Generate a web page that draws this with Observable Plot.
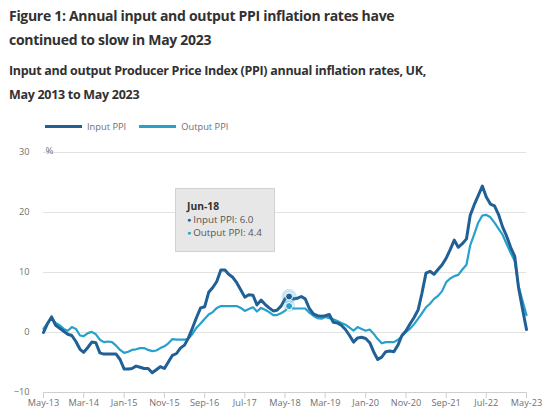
<!DOCTYPE html>
<html>
<head>
<meta charset="utf-8">
<script src="https://cdn.jsdelivr.net/npm/d3@7"></script>
<script src="https://cdn.jsdelivr.net/npm/@observablehq/plot@0.6"></script>
<style>
  html, body { margin: 0; padding: 0; background: #fff; }
  #wrap { position: relative; width: 550px; height: 414px; font-family: "Open Sans", sans-serif; overflow: hidden; }
  .title { position: absolute; left: 9px; top: 4px; font-size: 14px; font-weight: 700; letter-spacing: -0.3px; line-height: 24px; color: #323132; white-space: nowrap; }
  .subtitle { position: absolute; left: 9px; top: 58.5px; font-size: 12.5px; font-weight: 700; letter-spacing: -0.3px; line-height: 24.5px; color: #323132; white-space: nowrap; }
  .legend { position: absolute; left: 45px; top: 120px; font-size: 9.3px; color: #707071; display: flex; align-items: center; }
  .legend .item { display: flex; align-items: center; margin-right: 13px; }
  .legend .sw { display: inline-block; width: 37px; height: 3px; margin-right: 5px; }
  #chart { position: absolute; left: 0; top: 138px; }
  .tip { position: absolute; left: 175px; top: 188px; width: 100px; height: 64px; background: #e7e7e7; border: 1px solid #d2d2d2; box-sizing: border-box; font-size: 9.8px; color: #555; padding: 10.5px 0 0 11px; line-height: 13.3px; }
  .tip .h { font-weight: 700; color: #333; font-size: 10.3px; }
  .tip .b { font-size: 7px; vertical-align: 1px; margin-right: 2px; }
</style>
</head>
<body>
<div id="wrap">
  <div class="title">Figure 1: Annual input and output PPI inflation rates have<br>continued to slow in May 2023</div>
  <div class="subtitle">Input and output Producer Price Index (PPI) annual inflation rates, UK,<br>May 2013 to May 2023</div>
  <div class="legend" id="legend"></div>
  <div id="chart"></div>
  <div class="tip" id="tip"></div>
</div>
<script>
// Monthly series, May 2013 to May 2023 (121 months)
const startMonth = new Date(Date.UTC(2013, 4, 1));
const endMonth = new Date(Date.UTC(2023, 4, 1));

const inputPPI = [
  0.0, 1.5, 2.6, 1.2, 0.7, 0.2, -0.3, -0.5, -1.5, -2.8, -3.3, -2.5,
  -1.6, -1.7, -3.4, -3.6, -3.6, -3.6, -3.6, -4.5, -6.1, -6.1, -6.0, -5.6,
  -5.8, -6.0, -6.0, -6.7, -6.2, -5.7, -6.0, -4.9, -3.8, -3.5, -2.6, -2.1,
  -0.9, 0.8, 2.5, 4.1, 4.3, 6.7, 7.5, 8.5, 10.4, 10.4, 9.7, 9.2,
  8.3, 7.1, 5.9, 6.3, 6.2, 4.6, 5.4, 4.7, 4.1, 3.6, 3.7, 4.4,
  5.6, 6.0, 5.6, 5.7, 6.0, 5.6, 4.0, 3.1, 2.8, 2.7, 2.8, 3.0,
  1.7, 1.6, 1.2, 0.5, -0.5, -1.6, -0.9, -0.8, -1.0, -1.7, -3.2, -4.5,
  -4.1, -3.2, -3.1, -3.2, -2.1, -0.5, 0.3, 1.4, 2.5, 3.8, 6.5, 9.9,
  10.2, 9.7, 10.5, 11.3, 12.4, 13.8, 15.4, 14.2, 14.8, 15.6, 19.5, 21.3,
  22.8, 24.4, 22.6, 21.4, 21.1, 19.7, 17.6, 16.1, 14.2, 12.7, 7.6, 3.9,
  0.5
];

const outputPPI = [
  0.6, 1.6, 2.4, 1.6, 1.2, 0.6, 0.3, 0.9, 0.6, -0.5, -0.6, -0.1,
  0.1, -0.3, -1.2, -1.6, -1.5, -1.6, -2.2, -2.9, -3.4, -3.2, -2.9, -2.8,
  -2.6, -2.6, -2.9, -3.1, -3.0, -2.6, -2.3, -1.8, -1.1, -1.2, -1.2, -1.2,
  -1.0, -0.2, 0.8, 1.5, 2.3, 3.0, 3.4, 4.1, 4.4, 4.4, 4.4, 4.4,
  4.4, 4.1, 3.6, 3.9, 4.2, 3.5, 4.1, 3.8, 3.4, 2.9, 2.9, 3.2,
  3.6, 4.4, 4.0, 4.0, 4.0, 4.0, 3.3, 2.8, 2.4, 2.3, 2.6, 2.4,
  2.2, 1.9, 1.6, 1.3, 0.8, 0.3, 0.9, 0.6, 0.3, 0.5, -0.2, -1.1,
  -1.8, -1.6, -1.6, -1.6, -1.2, -0.6, 0.1, 0.6, 1.4, 2.3, 3.2, 4.2,
  4.8, 5.6, 6.1, 6.9, 8.4, 9.0, 9.4, 9.6, 10.5, 11.3, 14.5, 16.4,
  18.3, 19.5, 19.6, 19.2, 18.3, 17.3, 16.3, 14.8, 13.3, 11.9, 7.8, 5.3,
  2.9
];

const xTickLabels = ["May-13", "Mar-14", "Jan-15", "Nov-15", "Sep-16", "Jul-17", "May-18",
                     "Mar-19", "Jan-20", "Nov-20", "Sep-21", "Jul-22", "May-23"];
const yTicks = [-10, 0, 10, 20, 30];
const seriesNames = ["Input PPI", "Output PPI"];
const seriesColors = ["#206095", "#27a0cc"];
const highlightLabel = "Jun-18";

const fmt = d3.utcFormat("%b-%y");
const parse = d3.utcParse("%b-%y");
const months = d3.utcMonth.range(startMonth, d3.utcMonth.offset(endMonth, 1));
const rows = months.map((d, i) => ({date: d, input: inputPPI[i], output: outputPPI[i]}));
const tickDates = xTickLabels.map(s => parse(s));
const hi = rows.filter(r => fmt(r.date) === highlightLabel);

const chart = Plot.plot({
  width: 550,
  height: 276,
  marginLeft: 43,
  marginRight: 24,
  marginTop: 14,
  marginBottom: 22,
  style: {fontFamily: "Open Sans, sans-serif", fontSize: "9.2px", color: "#707071", background: "transparent", overflow: "visible"},
  x: {type: "utc", domain: [startMonth, endMonth], ticks: tickDates, tickFormat: fmt, tickSize: 6, tickPadding: 1, label: null},
  y: {domain: [-10, 30], ticks: yTicks, tickSize: 0, tickPadding: 14, label: null},
  marks: [
    Plot.ruleY(yTicks.filter(v => v !== -10), {stroke: "#e2e2e2", strokeWidth: 1}),
    Plot.ruleY([-10], {stroke: "#cfcfcf", strokeWidth: 1}),
    Plot.text(["%"], {frameAnchor: "top-left", dx: 2, dy: -5, fill: "#707071", fontSize: 9.5}),
    Plot.line(rows, {x: "date", y: "output", stroke: seriesColors[1], strokeWidth: 2.2, strokeLinejoin: "round"}),
    Plot.line(rows, {x: "date", y: "input", stroke: seriesColors[0], strokeWidth: 3, strokeLinejoin: "round"}),
    Plot.dot(hi, {x: "date", y: "input", r: 7.5, fill: seriesColors[1], fillOpacity: 0.25}),
    Plot.dot(hi, {x: "date", y: "output", r: 6, fill: seriesColors[1], fillOpacity: 0.2}),
    Plot.dot(hi, {x: "date", y: "input", r: 3.5, fill: seriesColors[0], stroke: "#fff", strokeWidth: 1}),
    Plot.dot(hi, {x: "date", y: "output", r: 3.5, fill: seriesColors[1], stroke: "#fff", strokeWidth: 1})
  ]
});
d3.select(chart).selectAll('[aria-label="x-axis tick"] path, [aria-label="x-axis"] path').attr("stroke", "#cfcfcf");
document.getElementById("chart").appendChild(chart);

// legend
const legend = document.getElementById("legend");
seriesNames.forEach((n, i) => {
  const it = document.createElement("span");
  it.className = "item";
  it.innerHTML = `<span class="sw" style="background:${seriesColors[i]}"></span><span>${n}</span>`;
  legend.appendChild(it);
});

// tooltip content from data
const tip = document.getElementById("tip");
const h = hi[0];
tip.innerHTML = `<div class="h">${highlightLabel}</div>` +
  `<div><span class="b" style="color:${seriesColors[0]}">●</span>${seriesNames[0]}: ${h.input.toFixed(1)}</div>` +
  `<div><span class="b" style="color:${seriesColors[1]}">●</span>${seriesNames[1]}: ${h.output.toFixed(1)}</div>`;
</script>
</body>
</html>
